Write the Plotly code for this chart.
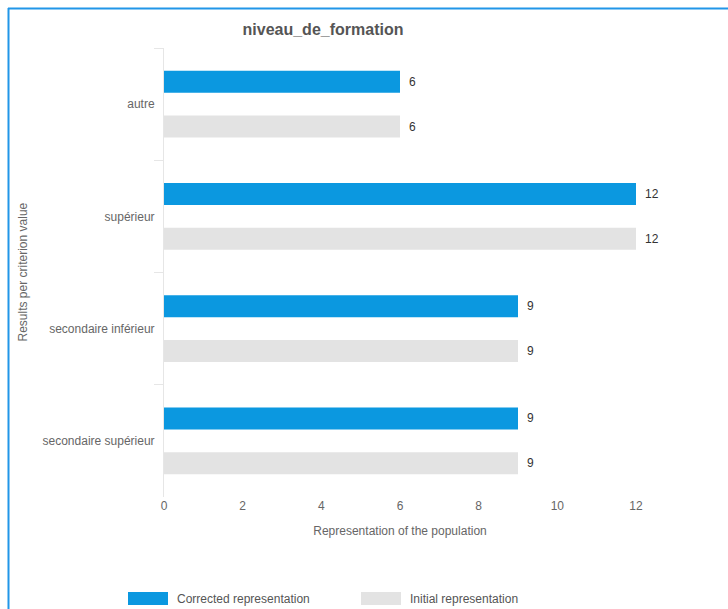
import plotly.graph_objects as go

categories = ["autre", "supérieur", "secondaire inférieur", "secondaire supérieur"]
corrected = [6, 12, 9, 9]
initial = [6, 12, 9, 9]
series_names = ["Corrected representation", "Initial representation"]
x_ticks = [0, 2, 4, 6, 8, 10, 12]

BLUE = "#0b98e0"
GREY = "#e3e3e3"
FONT = "Liberation Sans, Arial, sans-serif"

W, H = 728, 609
ML, MR, MT, MB = 164, 92, 48, 112
PW, PH = W - ML - MR, H - MT - MB

def px_x(px):
    return (px - ML) / PW

def px_y(py):
    return (H - MB - py) / PH

fig = go.Figure()
for name, vals, col in [(series_names[0], corrected, BLUE), (series_names[1], initial, GREY)]:
    fig.add_trace(go.Bar(
        y=categories, x=vals, orientation="h", name=name,
        marker=dict(color=col, line=dict(width=0)),
        text=["\u2002" + str(v) for v in vals], textposition="outside",
        textfont=dict(color="#333333", size=12, family=FONT),
        cliponaxis=False, showlegend=False,
    ))

shapes = [
    # outer frame (top and left)
    dict(type="line", xref="paper", yref="paper", x0=px_x(8), x1=px_x(730), y0=px_y(8.5), y1=px_y(8.5),
         line=dict(color="#2196e8", width=2)),
    dict(type="line", xref="paper", yref="paper", x0=px_x(8.5), x1=px_x(8.5), y0=px_y(8), y1=px_y(612),
         line=dict(color="#2196e8", width=2)),
    # legend swatches
    dict(type="rect", xref="paper", yref="paper", x0=px_x(128), x1=px_x(168), y0=px_y(605), y1=px_y(592),
         fillcolor=BLUE, line=dict(width=0)),
    dict(type="rect", xref="paper", yref="paper", x0=px_x(361), x1=px_x(401), y0=px_y(605), y1=px_y(592),
         fillcolor=GREY, line=dict(width=0)),
]

annotations = [
    dict(xref="paper", yref="paper", x=px_x(175), y=px_y(598.5), text=series_names[0], showarrow=False,
         xanchor="left", yanchor="middle", font=dict(size=12, color="#555555", family=FONT)),
    dict(xref="paper", yref="paper", x=px_x(408), y=px_y(598.5), text=series_names[1], showarrow=False,
         xanchor="left", yanchor="middle", font=dict(size=12, color="#555555", family=FONT)),
    dict(xref="paper", yref="paper", x=px_x(22), y=px_y(272.5), text="Results per criterion value",
         showarrow=False, textangle=-90, xanchor="center", yanchor="middle",
         font=dict(size=12, color="#666666", family=FONT)),
]

fig.update_layout(
    width=W, height=H,
    margin=dict(l=ML, r=MR, t=MT, b=MB, pad=0),
    paper_bgcolor="white", plot_bgcolor="white",
    font=dict(family=FONT, size=12, color="#666666"),
    title=dict(text="<b>niveau_de_formation</b>", x=323 / W, xanchor="center", xref="container",
               y=1 - 29 / H, yanchor="middle", yref="container",
               font=dict(size=16, color="#555555", family=FONT)),
    barmode="group", bargap=0.2, bargroupgap=0.51,
    shapes=shapes, annotations=annotations,
    xaxis=dict(range=[0, 12], tickvals=x_ticks, showgrid=False, zeroline=False, showline=False,
               ticks="", tickfont=dict(size=12, color="#666666"),
               title=dict(text="Representation of the population", standoff=14,
                          font=dict(size=12, color="#666666"))),
    yaxis=dict(categoryorder="array", categoryarray=categories, autorange="reversed",
               showgrid=False, zeroline=False, showline=True, linecolor="#e6e6e6", linewidth=1,
               ticks="outside", tickson="boundaries", ticklen=9, tickcolor="#e6e6e6",
               ticklabelstandoff=6,
               tickfont=dict(size=12, color="#666666")),
)

fig.write_html("out.html")
